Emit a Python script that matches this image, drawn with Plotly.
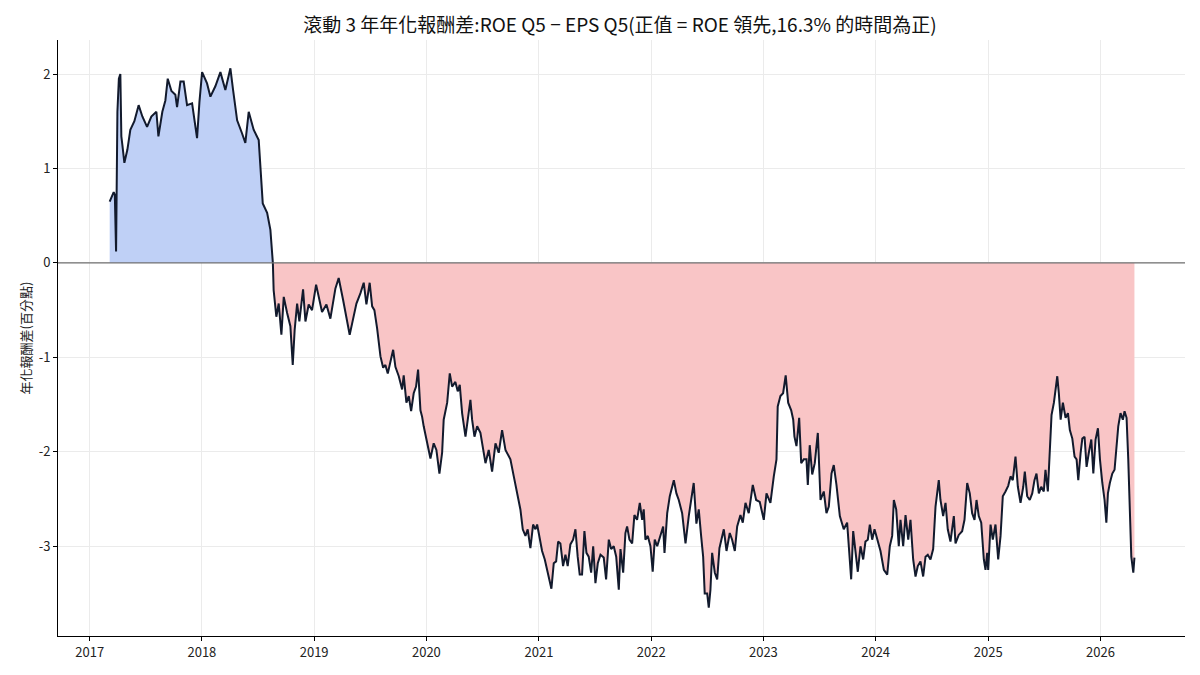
import plotly.graph_objects as go
import pandas as pd
import numpy as np

# rolling 3y annualised return spread, ROE Q5 minus EPS Q5 (pct points)
# time given as decimal year
year_pos = [
    2017.178, 2017.193, 2017.214, 2017.224, 2017.235, 2017.247, 2017.260, 2017.273, 2017.282, 2017.291,
    2017.309, 2017.336, 2017.362, 2017.398, 2017.436, 2017.469, 2017.511, 2017.549, 2017.594, 2017.612,
    2017.647, 2017.674, 2017.695, 2017.728, 2017.763, 2017.778, 2017.808, 2017.837, 2017.867, 2017.912,
    2017.932, 2017.956, 2017.977, 2018.001, 2018.045, 2018.075, 2018.119, 2018.164, 2018.208, 2018.253,
    2018.277, 2018.313, 2018.357, 2018.386, 2018.416, 2018.460, 2018.505, 2018.520, 2018.541, 2018.580,
    2018.609, 2018.631,
    2018.638, 2018.662, 2018.683, 2018.707, 2018.728, 2018.758, 2018.787, 2018.808, 2018.825, 2018.847,
    2018.867, 2018.900, 2018.921, 2018.950, 2018.980, 2019.016, 2019.039, 2019.069, 2019.108, 2019.143,
    2019.188, 2019.217, 2019.256, 2019.292, 2019.315, 2019.337, 2019.375, 2019.411, 2019.440, 2019.464,
    2019.493, 2019.515, 2019.535, 2019.559, 2019.589, 2019.613, 2019.633, 2019.654, 2019.678, 2019.702,
    2019.722, 2019.752, 2019.782, 2019.796, 2019.820, 2019.841, 2019.862, 2019.885, 2019.906, 2019.924,
    2019.945, 2019.960, 2019.974, 2019.998, 2020.034, 2020.063, 2020.087, 2020.114, 2020.138, 2020.152,
    2020.183, 2020.206, 2020.227, 2020.256, 2020.277, 2020.295, 2020.316, 2020.346, 2020.366, 2020.390,
    2020.405, 2020.426, 2020.450,
    2020.479, 2020.524, 2020.553, 2020.583, 2020.613, 2020.642, 2020.672, 2020.702, 2020.746, 2020.776,
    2020.806, 2020.835, 2020.856, 2020.880, 2020.900, 2020.924, 2020.948, 2020.969, 2020.984, 2021.007,
    2021.028, 2021.052, 2021.073, 2021.094, 2021.111, 2021.132, 2021.153, 2021.171, 2021.191, 2021.215,
    2021.236, 2021.256, 2021.280, 2021.304, 2021.325, 2021.345, 2021.363, 2021.384, 2021.405, 2021.423,
    2021.443, 2021.465, 2021.483, 2021.503, 2021.524, 2021.548, 2021.577, 2021.598, 2021.622, 2021.643,
    2021.666, 2021.688, 2021.711, 2021.726, 2021.750, 2021.770, 2021.785, 2021.806, 2021.830, 2021.850,
    2021.874, 2021.898, 2021.919, 2021.933, 2021.948, 2021.969, 2021.993, 2022.013, 2022.031, 2022.053,
    2022.082, 2022.106, 2022.118, 2022.142, 2022.165, 2022.201, 2022.224, 2022.245, 2022.275, 2022.305,
    2022.334, 2022.355, 2022.378, 2022.402, 2022.423, 2022.444, 2022.462, 2022.476, 2022.498, 2022.512,
    2022.527, 2022.542, 2022.566, 2022.587, 2022.607,
    2022.646, 2022.670, 2022.699, 2022.720, 2022.744, 2022.765, 2022.794, 2022.815, 2022.839, 2022.868,
    2022.904, 2022.934, 2022.966, 2023.002, 2023.026, 2023.061, 2023.091, 2023.115, 2023.126, 2023.150,
    2023.174, 2023.197, 2023.219, 2023.246, 2023.264, 2023.275, 2023.293, 2023.317, 2023.335, 2023.358,
    2023.382, 2023.394, 2023.411, 2023.433, 2023.456, 2023.483, 2023.507, 2023.536, 2023.560, 2023.581,
    2023.605, 2023.625, 2023.649, 2023.679, 2023.714, 2023.744, 2023.759, 2023.780, 2023.798, 2023.818,
    2023.839, 2023.863, 2023.887, 2023.907, 2023.928, 2023.946, 2023.967, 2023.988, 2024.012, 2024.041,
    2024.071, 2024.101, 2024.124, 2024.145, 2024.160, 2024.181, 2024.204, 2024.219, 2024.243, 2024.264,
    2024.288, 2024.308, 2024.332, 2024.353, 2024.373, 2024.397, 2024.421, 2024.442, 2024.462, 2024.486,
    2024.510, 2024.531, 2024.560, 2024.575, 2024.599, 2024.620, 2024.640,
    2024.664, 2024.694, 2024.709, 2024.738, 2024.768, 2024.789, 2024.813, 2024.836, 2024.857, 2024.878,
    2024.896, 2024.916, 2024.938, 2024.961, 2024.976, 2024.991, 2025.000, 2025.021, 2025.041, 2025.065,
    2025.089, 2025.110, 2025.130, 2025.154, 2025.178, 2025.199, 2025.219, 2025.243, 2025.264, 2025.288,
    2025.312, 2025.326, 2025.347, 2025.370, 2025.392, 2025.412, 2025.430, 2025.451, 2025.472, 2025.495,
    2025.510, 2025.531, 2025.549, 2025.564, 2025.585, 2025.600, 2025.615, 2025.629, 2025.645, 2025.665,
    2025.689, 2025.710, 2025.727, 2025.749, 2025.769, 2025.787, 2025.802, 2025.823, 2025.838, 2025.858,
    2025.876, 2025.896, 2025.918, 2025.936, 2025.956, 2025.977, 2025.995, 2026.016, 2026.036, 2026.052,
    2026.066, 2026.083, 2026.105, 2026.125, 2026.143, 2026.158, 2026.178, 2026.199, 2026.214, 2026.232,
    2026.247, 2026.261, 2026.274, 2026.292, 2026.302,
]

spread = [
    0.65, 0.70, 0.75, 0.72, 0.12, 1.60, 1.95, 2.00, 1.34, 1.25,
    1.06, 1.20, 1.41, 1.50, 1.67, 1.55, 1.44, 1.55, 1.60, 1.34,
    1.60, 1.72, 1.95, 1.82, 1.78, 1.65, 1.92, 1.92, 1.67, 1.69,
    1.50, 1.32, 1.70, 2.02, 1.90, 1.76, 1.87, 2.02, 1.83, 2.06,
    1.83, 1.51, 1.37, 1.27, 1.60, 1.41, 1.30, 1.05, 0.63, 0.53,
    0.35, 0.00,
    -0.29, -0.57, -0.43, -0.76, -0.36, -0.53, -0.67, -1.08, -0.71, -0.43,
    -0.62, -0.28, -0.62, -0.44, -0.50, -0.23, -0.37, -0.52, -0.44, -0.59,
    -0.27, -0.16, -0.39, -0.64, -0.76, -0.64, -0.43, -0.32, -0.21, -0.44,
    -0.21, -0.46, -0.50, -0.69, -0.99, -1.11, -1.08, -1.17, -1.03, -0.92,
    -1.10, -1.20, -1.34, -1.19, -1.48, -1.41, -1.57, -1.38, -1.31, -1.13,
    -1.56, -1.63, -1.73, -1.87, -2.07, -1.91, -1.98, -2.23, -2.01, -1.66,
    -1.48, -1.17, -1.31, -1.26, -1.36, -1.29, -1.59, -1.84, -1.66, -1.45,
    -1.66, -1.84, -1.73,
    -1.80, -2.12, -1.98, -2.21, -1.91, -2.01, -1.77, -1.98, -2.08, -2.26,
    -2.44, -2.61, -2.82, -2.89, -2.82, -3.02, -2.77, -2.82, -2.77, -2.93,
    -3.05, -3.14, -3.25, -3.39, -3.45, -3.18, -3.16, -2.95, -2.97, -3.21,
    -3.09, -3.21, -2.98, -2.93, -2.82, -3.11, -3.30, -3.30, -2.84, -3.07,
    -3.11, -3.28, -3.00, -3.39, -3.18, -3.09, -3.12, -3.35, -2.93, -3.03,
    -3.00, -3.11, -3.46, -3.03, -3.28, -2.86, -2.79, -2.93, -2.97, -2.67,
    -2.72, -2.54, -2.72, -2.61, -2.93, -2.89, -3.00, -3.27, -2.93, -3.00,
    -2.89, -2.79, -3.07, -2.65, -2.47, -2.30, -2.44, -2.51, -2.65, -2.97,
    -2.68, -2.51, -2.33, -2.76, -2.61, -2.89, -3.11, -3.50, -3.50, -3.65,
    -3.46, -3.07, -3.28, -3.35, -3.02,
    -2.82, -3.05, -2.86, -2.93, -3.05, -2.79, -2.67, -2.75, -2.54, -2.65,
    -2.35, -2.51, -2.53, -2.72, -2.44, -2.54, -2.26, -2.08, -1.52, -1.41,
    -1.38, -1.19, -1.48, -1.56, -1.66, -1.84, -1.94, -1.64, -2.12, -2.08,
    -2.08, -2.35, -1.93, -2.24, -2.12, -1.80, -2.51, -2.42, -2.65, -2.58,
    -2.23, -2.14, -2.35, -2.68, -2.82, -2.75, -3.00, -3.35, -2.84, -3.07,
    -3.27, -3.00, -3.14, -2.95, -2.93, -2.77, -2.93, -2.82, -2.93, -3.05,
    -3.25, -3.30, -3.00, -2.89, -2.51, -2.61, -3.00, -2.72, -3.00, -2.67,
    -2.93, -2.72, -3.14, -3.32, -3.21, -3.16, -3.32, -3.11, -3.09, -3.14,
    -3.03, -2.58, -2.30, -2.51, -2.68, -2.54, -2.82,
    -2.95, -2.68, -2.97, -2.88, -2.84, -2.72, -2.33, -2.44, -2.65, -2.72,
    -2.51, -2.68, -2.75, -3.14, -3.25, -3.07, -3.25, -2.77, -2.93, -2.77,
    -3.14, -2.89, -2.47, -2.42, -2.36, -2.26, -2.30, -2.05, -2.37, -2.54,
    -2.37, -2.21, -2.47, -2.51, -2.44, -2.30, -2.23, -2.44, -2.37, -2.42,
    -2.19, -2.42, -2.05, -1.61, -1.48, -1.34, -1.20, -1.38, -1.66, -1.48,
    -1.64, -1.59, -1.77, -1.86, -2.05, -2.08, -2.30, -2.01, -1.86, -1.84,
    -2.16, -2.01, -1.87, -2.23, -1.87, -1.75, -2.08, -2.33, -2.51, -2.75,
    -2.44, -2.33, -2.23, -2.19, -1.94, -1.73, -1.59, -1.66, -1.57, -1.64,
    -2.08, -2.61, -3.11, -3.28, -3.12,
]

y_ticks = [-3, -2, -1, 0, 1, 2]
y_tick_labels = ["-3", "-2", "-1", "0", "1", "2"]

frac = np.array(year_pos) - 2017
dates = pd.Timestamp("2017-01-01") + pd.to_timedelta(frac * 365.25, unit="D")
vals = np.array(spread)
pos_part = np.clip(vals, 0, None)
neg_part = np.clip(vals, None, 0)

fig = go.Figure()
fig.add_trace(go.Scatter(x=dates, y=pos_part, mode="lines", fill="tozeroy",
                         fillcolor="#bfd0f6", line=dict(width=0), hoverinfo="skip",
                         showlegend=False))
fig.add_trace(go.Scatter(x=dates, y=neg_part, mode="lines", fill="tozeroy",
                         fillcolor="#f9c5c6", line=dict(width=0), hoverinfo="skip",
                         showlegend=False))
fig.add_trace(go.Scatter(x=dates, y=vals, mode="lines",
                         line=dict(color="#121a2d", width=2), showlegend=False))

fig.add_hline(y=0, line=dict(color="#707070", width=1.3))

font_fam = "Noto Sans CJK TC, Noto Sans, sans-serif"
fig.update_layout(
    width=1200, height=675,
    paper_bgcolor="white", plot_bgcolor="white",
    margin=dict(l=50, r=23, t=32, b=47),
    font=dict(family=font_fam, size=13, color="#222222"),
    title=dict(text="滾動 3 年年化報酬差:ROE Q5 − EPS Q5(正值 = ROE 領先,16.3% 的時間為正)",
               x=0.51, xanchor="center", y=0.975, yanchor="middle",
               font=dict(size=19, color="#111111")),
)
fig.update_xaxes(
    type="date", range=["2016-09-20", "2026-10-03"],
    dtick="M12", tick0="2017-01-01", tickformat="%Y",
    showgrid=True, gridcolor="#ebebeb", gridwidth=1,
    showline=True, linecolor="black", linewidth=1,
    ticks="outside", ticklen=4, tickcolor="black",
    zeroline=False,
)
fig.update_yaxes(
    range=[-3.95, 2.36],
    tickvals=y_ticks, ticktext=y_tick_labels,
    showgrid=True, gridcolor="#ebebeb", gridwidth=1,
    showline=True, linecolor="black", linewidth=1,
    ticks="outside", ticklen=4, tickcolor="black",
    zeroline=False, automargin=False,
    title=dict(text="年化報酬差(百分點)", standoff=4, font=dict(size=13)),
)

fig.write_html("out.html")
